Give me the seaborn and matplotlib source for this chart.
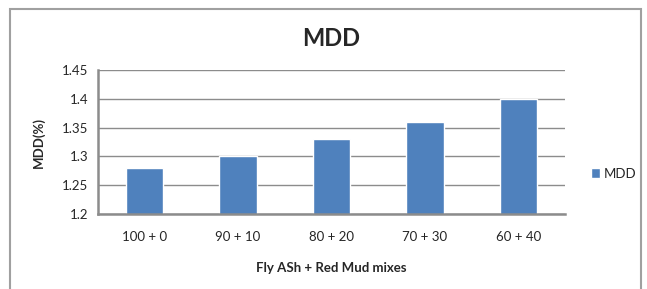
import matplotlib
matplotlib.use("Agg")
import matplotlib.pyplot as plt
import seaborn as sns
import pandas as pd
from matplotlib.patches import Rectangle

# data
mixes = ["100 + 0", "90 + 10", "80 + 20", "70 + 30", "60 + 40"]
mdd = [1.28, 1.30, 1.33, 1.36, 1.40]
yticks = [1.2, 1.25, 1.3, 1.35, 1.4, 1.45]
ytick_labels = ["1.2", "1.25", "1.3", "1.35", "1.4", "1.45"]

df = pd.DataFrame({"mix": mixes, "MDD": mdd})

sns.set_style("white")
plt.rcParams["font.family"] = ["Lato", "DejaVu Sans"]

W, H = 647, 289
fig = plt.figure(figsize=(W / 100, H / 100), dpi=100)
ax = fig.add_axes([98 / W, 1 - 214 / H, (565 - 98) / W, (214 - 70) / H])

sns.barplot(data=df, x="mix", y="MDD", color="#4f81bd", width=0.4,
            saturation=1, ax=ax, label="MDD")

ax.set_ylim(1.2, 1.45)
ax.set_yticks(yticks)
ax.set_yticklabels(ytick_labels)
ax.yaxis.grid(True, color="#8c8c8c", linewidth=1)
ax.set_axisbelow(True)
for s in ["top", "right"]:
    ax.spines[s].set_visible(False)
for s in ["left", "bottom"]:
    ax.spines[s].set_color("#8c8c8c")
    ax.spines[s].set_linewidth(1.8)
ax.tick_params(axis="y", length=4, width=1.2, color="#8c8c8c", labelsize=9.5, pad=3)
ax.tick_params(axis="x", length=0, labelsize=9.5, pad=12)

ax.set_xlabel("Fly ASh + Red Mud mixes", fontsize=9.5, fontweight="bold", labelpad=14)
ax.set_ylabel("MDD(%)", fontsize=9.5, fontweight="bold", labelpad=12)
fig.text((98 + 565) / 2 / W, 1 - 38 / H, "MDD", ha="center", va="center",
         fontsize=17, fontweight="bold")

ax.legend(loc="center left", bbox_to_anchor=(1.03, 0.28), frameon=False,
          fontsize=9.5, handlelength=0.7, handleheight=0.7, handletextpad=0.3)

# outer chart border
fig.patches.append(Rectangle((10 / W, -0.05), (641 - 10) / W, 1.05 - 9 / H,
                             transform=fig.transFigure, fill=False,
                             edgecolor="#a0a0a0", linewidth=1.5))

fig.savefig("out.png", dpi=100)
